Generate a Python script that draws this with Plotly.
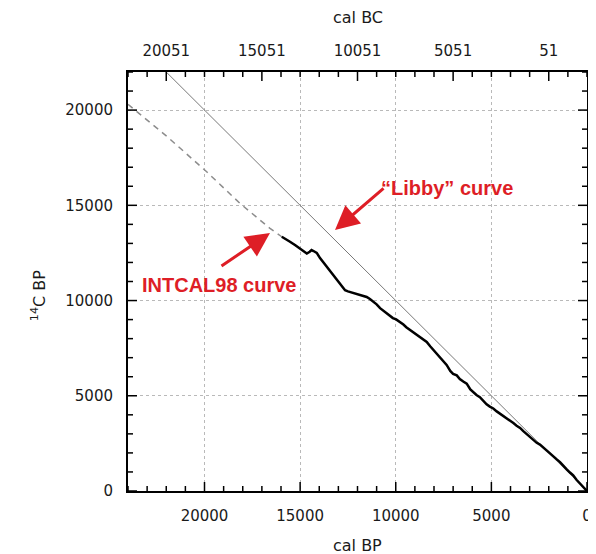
import plotly.graph_objects as go

# ---- data ----
libby_bp = [0, 24000]
libby_c14 = [0, 24000]

dashed_bp = [24000, 23500, 22000, 19885, 18144, 16575, 15960]
dashed_c14 = [20300, 19900, 18650, 16760, 15100, 13790, 13350]

solid_bp = [15960, 15750, 15530, 15250, 15000, 14800, 14650, 14500, 14400, 14300,
            14130, 13960, 13800, 13610, 13450, 13260, 13100, 12910, 12750, 12650,
            12500, 12350, 12220, 12050, 11850, 11700, 11520, 11350, 11170, 11000,
            10820, 10650, 10500, 10300, 10150, 9980, 9780, 9600, 9450, 9250,
            9100, 8900, 8730, 8550, 8380, 8200, 8030, 7860, 7700, 7520,
            7340, 7150, 7000, 6810, 6650, 6470, 6290, 6100, 5950, 5780,
            5600, 5420, 5250, 5080, 4900, 4720, 4550, 4380, 4200, 4030,
            3850, 3680, 3500, 3330, 3150, 2980, 2810, 2630, 2460, 2280,
            2110, 1930, 1760, 1580, 1410, 1240, 1060, 890, 720, 550,
            380, 190, 0]
solid_c14 = [13350, 13200, 13090, 12900, 12720, 12560, 12470, 12560, 12650, 12600,
             12500, 12230, 12020, 11780, 11560, 11340, 11150, 10900, 10640, 10540,
             10480, 10430, 10400, 10330, 10270, 10240, 10190, 10080, 9940, 9800,
             9600, 9480, 9350, 9230, 9080, 9010, 8880, 8740, 8600, 8450,
             8340, 8200, 8090, 7940, 7830, 7600, 7400, 7230, 7040, 6820,
             6620, 6300, 6150, 6070, 5880, 5750, 5640, 5330, 5170, 5040,
             4930, 4720, 4550, 4430, 4330, 4180, 4070, 3920, 3810, 3710,
             3570, 3430, 3310, 3140, 2980, 2860, 2720, 2530, 2440, 2270,
             2130, 1980, 1830, 1660, 1520, 1310, 1140, 970, 820, 590,
             400, 220, 0]

bottom_ticks = [20000, 15000, 10000, 5000, 0]
bottom_labels = ["20000", "15000", "10000", "5000", "0"]
left_ticks = [0, 5000, 10000, 15000, 20000]
left_labels = ["0", "5000", "10000", "15000", "20000"]
top_tickvals = [22000, 17000, 12000, 7000, 2000]
top_ticktext = ["20051", "15051", "10051", "5051", "51"]
x_minor_ticks = list(range(0, 24001, 1000))
y_minor_ticks = list(range(0, 22001, 1000))

FONT = "DejaVu Sans"
RED = "rgb(222,30,38)"
INK = "#1a1a1a"

fig = go.Figure()
fig.add_trace(go.Scatter(x=libby_bp, y=libby_c14, mode="lines",
                         line=dict(color="rgb(120,120,120)", width=1), showlegend=False))
fig.add_trace(go.Scatter(x=dashed_bp, y=dashed_c14, mode="lines",
                         line=dict(color="rgb(140,140,140)", width=1.5, dash="6px,5px"),
                         showlegend=False))
fig.add_trace(go.Scatter(x=solid_bp, y=solid_c14, mode="lines",
                         line=dict(color="black", width=2.5), showlegend=False))
# invisible trace so that the top axis is drawn
fig.add_trace(go.Scatter(x=libby_bp, y=libby_c14, mode="lines", xaxis="x2",
                         line=dict(color="rgba(0,0,0,0)", width=0), showlegend=False,
                         hoverinfo="skip"))

tickfont = dict(family=FONT, size=15, color=INK)

# The page body adds an 8px margin, so the figure is sized 8px smaller.
fig.update_layout(
    width=588, height=546,
    margin=dict(l=120, r=9, t=64, b=63),
    paper_bgcolor="white", plot_bgcolor="white",
    xaxis=dict(range=[24000, 0], tickmode="array", tickvals=bottom_ticks, ticktext=bottom_labels,
               ticks="", showline=True, linecolor="black", linewidth=2, mirror=True,
               showgrid=True, gridcolor="rgb(185,185,185)", griddash="dot", gridwidth=1,
               zeroline=False, tickfont=tickfont, automargin=False,
               ticklabelstandoff=10),
    xaxis2=dict(range=[24000, 0], overlaying="x", side="top", anchor="y",
                tickmode="array", tickvals=top_tickvals, ticktext=top_ticktext,
                ticks="", showline=False, showgrid=False, zeroline=False, tickfont=tickfont,
                automargin=False, ticklabelstandoff=12),
    yaxis=dict(range=[0, 22000], tickmode="array", tickvals=left_ticks, ticktext=left_labels,
               ticks="", showline=True, linecolor="black", linewidth=2, mirror=True,
               showgrid=True, gridcolor="rgb(185,185,185)", griddash="dot", gridwidth=1,
               zeroline=False, tickfont=tickfont, automargin=False,
               ticklabelstandoff=10),
)

# ---- inward tick marks, positioned through the axes' own scales ----
MAJ, MIN = 9, 5
tick_line = dict(color="black", width=1.5)
shapes = []
for v in x_minor_ticks:
    lb = MAJ if v in bottom_ticks else MIN
    lt = MAJ if v in top_tickvals else MIN
    shapes.append(dict(type="line", xref="x", yref="paper", ysizemode="pixel", yanchor=0,
                       x0=v, x1=v, y0=0, y1=lb, line=tick_line, layer="above"))
    shapes.append(dict(type="line", xref="x", yref="paper", ysizemode="pixel", yanchor=1,
                       x0=v, x1=v, y0=0, y1=-lt, line=tick_line, layer="above"))
for v in y_minor_ticks:
    ln = MAJ if v in left_ticks else MIN
    shapes.append(dict(type="line", xref="paper", yref="y", xsizemode="pixel", xanchor=0,
                       x0=0, x1=ln, y0=v, y1=v, line=tick_line, layer="above"))
    shapes.append(dict(type="line", xref="paper", yref="y", xsizemode="pixel", xanchor=1,
                       x0=0, x1=-ln, y0=v, y1=v, line=tick_line, layer="above"))
fig.update_layout(shapes=shapes)

annotations = [
    dict(text="cal BC", xref="paper", yref="paper", x=0.5, y=1.129,
         showarrow=False, font=dict(family=FONT, size=16, color=INK),
         xanchor="center", yanchor="middle"),
    dict(text="cal BP", xref="paper", yref="paper", x=0.5, y=-0.129,
         showarrow=False, font=dict(family=FONT, size=16, color=INK),
         xanchor="center", yanchor="middle"),
    dict(text="<sup>14</sup>C BP", xref="paper", yref="paper", x=-0.196, y=0.465,
         showarrow=False, textangle=-90, font=dict(family=FONT, size=16, color=INK),
         xanchor="center", yanchor="middle"),
    # arrows
    dict(x=16575, y=13543, ax=19190, ay=11760, xref="x", yref="y", axref="x", ayref="y",
         text="", showarrow=True, arrowhead=2, arrowsize=1.6, arrowwidth=3, arrowcolor=RED),
    dict(x=13176, y=13700, ax=10560, ay=15960, xref="x", yref="y", axref="x", ayref="y",
         text="", showarrow=True, arrowhead=2, arrowsize=1.6, arrowwidth=3, arrowcolor=RED),
    # labels
    dict(x=19190, y=10814, xref="x", yref="y", text="<b>INTCAL98 curve</b>",
         showarrow=False, font=dict(family="Liberation Sans", size=20, color=RED),
         xanchor="center", yanchor="middle"),
    dict(x=7320, y=15906, xref="x", yref="y", text="<b>\u201cLibby\u201d curve</b>",
         showarrow=False, font=dict(family="Liberation Sans", size=20, color=RED),
         xanchor="center", yanchor="middle"),
]
fig.update_layout(annotations=annotations)

fig.write_html("out.html")
